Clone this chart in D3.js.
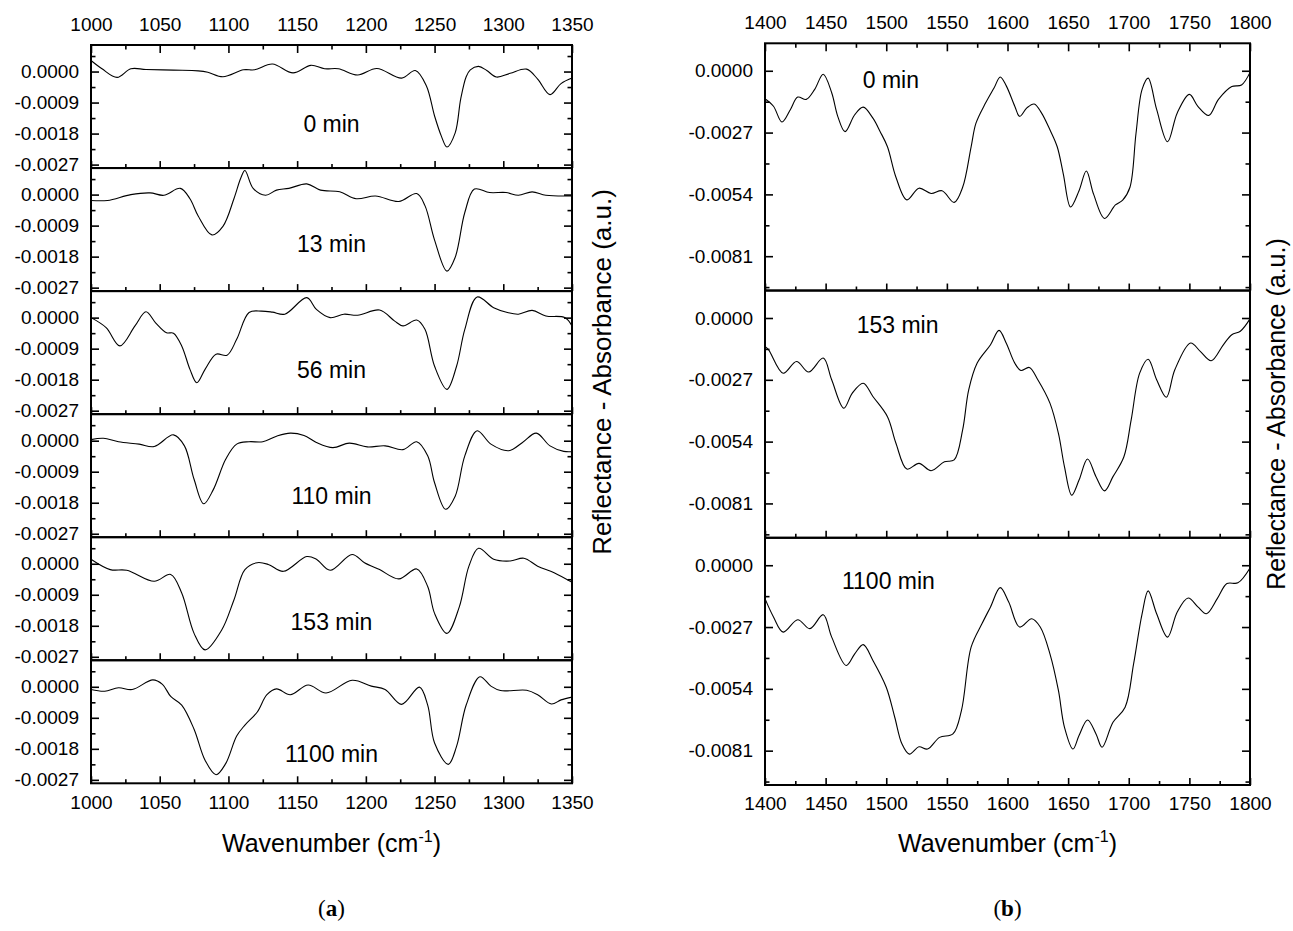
<!DOCTYPE html>
<html>
<head>
<meta charset="utf-8">
<script src="https://cdn.jsdelivr.net/npm/d3@7"></script>
<style>
  body { margin: 0; background: #fff; }
  svg { display: block; font-family: "Liberation Sans", Arial, sans-serif; }
</style>
</head>
<body>
<svg id="chart" width="1293" height="931"></svg>
<script>
// ---- Data -----------------------------------------------------------------
// Difference spectra [wavenumber (cm-1), reflectance - absorbance (a.u.)]

// (a) 1000-1350 cm-1 region
const timesA = ["0 min", "13 min", "56 min", "110 min", "153 min", "1100 min"];

const specA0 = [[1000,0.00032],[1008,0.00008],[1019,-0.00017],[1029,0.00008],[1040,0.00006],[1060,0.00004],[1078,0.00002],[1085,-0.00002],[1096,-0.00015],[1111,0.00005],[1119,0.00005],[1132,0.00022],[1147,-0.00004],[1160,0.00018],[1170,0.00008],[1180,0.00008],[1194,-0.0001],[1208,0.00009],[1226,-0.00019],[1236,0.00003],[1244,-0.00041],[1250,-0.00129],[1255,-0.00188],[1259,-0.00219],[1265,-0.00178],[1269,-0.0008],[1273,-0.00015],[1276,0.00005],[1282,0.00015],[1288,0.00003],[1295,-0.00016],[1305,-0.00005],[1317,0.00007],[1325,-0.00022],[1334,-0.00067],[1342,-0.00035],[1350,-0.00019]];

const specA1 = [[1000,-0.00017],[1012,-0.00017],[1029,0],[1043,0.00005],[1053,-0.00002],[1065,0.00018],[1072,-0.00012],[1078,-0.00062],[1088,-0.00117],[1096,-0.00092],[1104,-0.00012],[1109,0.00048],[1112,0.0007],[1118,0.00018],[1127,-0.00002],[1135,0.00013],[1144,0.00018],[1157,0.00031],[1167,0.00013],[1181,0.00008],[1193,-0.00012],[1207,-0.00004],[1224,-0.0002],[1237,0.00003],[1243,-0.00032],[1250,-0.00132],[1259,-0.00222],[1265,-0.00182],[1272,-0.00052],[1279,0.00016],[1290,0.00006],[1302,0.00006],[1311,-0.00002],[1321,0.00008],[1331,-0.00002],[1350,-0.00004]];

const specA2 = [[1000,0],[1011,-0.00029],[1021,-0.00082],[1032,-0.00024],[1040,0.00017],[1047,-0.00015],[1055,-0.00044],[1060,-0.00045],[1066,-0.00082],[1072,-0.0015],[1077,-0.00189],[1083,-0.0015],[1091,-0.00106],[1099,-0.00109],[1106,-0.00063],[1115,0.00015],[1124,0.00019],[1132,0.00016],[1141,0.0001],[1157,0.00058],[1164,0.00024],[1174,0],[1184,0.0001],[1194,0.00007],[1210,0.00022],[1221,-0.0001],[1227,-0.00024],[1237,-0.00007],[1243,-0.00034],[1250,-0.00141],[1259,-0.00208],[1266,-0.00141],[1272,-0.00034],[1281,0.0006],[1293,0.00029],[1303,0.00015],[1311,0.0001],[1321,0.00021],[1331,0.00005],[1345,0],[1350,-0.00024]];

const specA3 = [[1000,0.00003],[1009,0.00007],[1020,-0.00003],[1035,-0.0001],[1046,-0.00017],[1060,0.00017],[1068,-0.00015],[1075,-0.00112],[1082,-0.00183],[1089,-0.00142],[1098,-0.00054],[1106,-0.0001],[1115,-0.00003],[1125,-0.00003],[1135,0.00013],[1145,0.00022],[1155,0.00015],[1164,-0.00005],[1176,-0.0002],[1188,-0.00007],[1201,-0.00018],[1214,-0.00015],[1227,-0.00026],[1237,-0.00003],[1245,-0.00044],[1250,-0.00122],[1258,-0.00199],[1265,-0.00161],[1272,-0.00044],[1281,0.00029],[1291,-0.0001],[1304,-0.00029],[1314,-0.00005],[1324,0.00022],[1334,-0.00015],[1344,-0.00031],[1350,-0.00032]];

const specA4 = [[1000,0.00013],[1014,-0.00017],[1026,-0.00019],[1046,-0.00051],[1058,-0.00031],[1066,-0.00085],[1075,-0.00202],[1083,-0.0025],[1095,-0.00193],[1104,-0.00105],[1112,-0.00017],[1121,0.00003],[1129,-0.00002],[1140,-0.00022],[1157,0.00021],[1164,0.00013],[1174,-0.00019],[1190,0.00027],[1199,0.00003],[1210,-0.00017],[1224,-0.00044],[1237,-0.00015],[1245,-0.00066],[1250,-0.00144],[1259,-0.00202],[1268,-0.00125],[1275,-0.00007],[1282,0.00045],[1293,0.00013],[1305,0.00008],[1315,0.00016],[1325,-0.00007],[1337,-0.00026],[1350,-0.00054]];

const specA5 = [[1000,-0.00008],[1010,-0.00013],[1020,-0.00003],[1030,-0.00008],[1045,0.0002],[1052,0.00007],[1058,-0.00028],[1066,-0.00053],[1075,-0.00123],[1083,-0.00213],[1091,-0.00255],[1098,-0.00223],[1106,-0.00143],[1112,-0.00111],[1121,-0.00073],[1128,-0.00023],[1135,-0.00006],[1145,-0.00023],[1158,0.00005],[1171,-0.00018],[1190,0.00019],[1204,0.00002],[1214,-0.00008],[1226,-0.00051],[1239,-0.00001],[1245,-0.00053],[1250,-0.00163],[1260,-0.00225],[1266,-0.00173],[1273,-0.00053],[1283,0.00029],[1291,0.00002],[1298,-0.00011],[1317,-0.0001],[1325,-0.00023],[1335,-0.0005],[1342,-0.00038],[1350,-0.0003]];

// (b) 1400-1800 cm-1 region
const timesB = ["0 min", "153 min", "1100 min"];

const specB0 = [[1400,-0.00122],[1407,-0.00155],[1414,-0.00224],[1421,-0.00169],[1427,-0.00115],[1434,-0.00125],[1441,-0.00081],[1448,-0.00015],[1455,-0.00096],[1460,-0.00199],[1466,-0.00266],[1474,-0.00192],[1481,-0.00159],[1489,-0.00207],[1495,-0.00266],[1501,-0.00332],[1508,-0.00465],[1517,-0.00564],[1527,-0.00513],[1537,-0.00536],[1546,-0.00524],[1556,-0.00575],[1563,-0.00509],[1570,-0.00332],[1574,-0.00229],[1582,-0.0014],[1589,-0.00074],[1594,-0.00027],[1599,-0.00066],[1606,-0.00155],[1610,-0.00199],[1616,-0.00162],[1622,-0.00145],[1628,-0.00184],[1635,-0.00258],[1641,-0.00332],[1646,-0.0045],[1652,-0.00595],[1659,-0.00524],[1665,-0.00438],[1671,-0.00539],[1680,-0.00645],[1689,-0.00586],[1695,-0.00565],[1701,-0.00509],[1706,-0.00273],[1711,-0.00081],[1716,-0.00032],[1723,-0.00169],[1732,-0.0031],[1740,-0.00184],[1750,-0.00103],[1757,-0.00155],[1766,-0.00195],[1774,-0.00125],[1785,-0.00069],[1793,-0.00062],[1800,-0.00007]];

const specB1 = [[1400,-0.00124],[1403,-0.00139],[1415,-0.00241],[1426,-0.0019],[1436,-0.00236],[1448,-0.00175],[1455,-0.0027],[1465,-0.00394],[1472,-0.00328],[1481,-0.00285],[1489,-0.00343],[1501,-0.00431],[1508,-0.00547],[1517,-0.0066],[1527,-0.00635],[1537,-0.00667],[1548,-0.00628],[1556,-0.0062],[1563,-0.00489],[1568,-0.00314],[1575,-0.00197],[1586,-0.00117],[1593,-0.00054],[1599,-0.0011],[1606,-0.00197],[1611,-0.00229],[1618,-0.00216],[1625,-0.0027],[1635,-0.00372],[1642,-0.00504],[1647,-0.0065],[1653,-0.00774],[1659,-0.00708],[1666,-0.00616],[1673,-0.00693],[1680,-0.00755],[1687,-0.00693],[1696,-0.00606],[1702,-0.00445],[1709,-0.00241],[1716,-0.0018],[1723,-0.0027],[1731,-0.00346],[1738,-0.00226],[1751,-0.00109],[1759,-0.00146],[1768,-0.00187],[1778,-0.00117],[1785,-0.00073],[1792,-0.00058],[1800,-0.00004]];

const specB2 = [[1400,-0.00146],[1407,-0.00226],[1415,-0.00292],[1427,-0.00238],[1437,-0.00277],[1448,-0.00216],[1455,-0.00314],[1467,-0.00438],[1474,-0.00387],[1481,-0.00347],[1489,-0.00416],[1500,-0.00533],[1507,-0.00664],[1513,-0.00781],[1519,-0.00825],[1527,-0.00793],[1534,-0.00803],[1544,-0.00752],[1555,-0.00737],[1562,-0.00635],[1570,-0.00358],[1579,-0.00255],[1586,-0.00182],[1594,-0.00098],[1601,-0.00161],[1610,-0.0027],[1620,-0.00234],[1627,-0.0027],[1635,-0.00387],[1642,-0.00547],[1647,-0.00708],[1654,-0.00803],[1659,-0.00744],[1666,-0.00676],[1673,-0.00737],[1678,-0.00795],[1687,-0.00686],[1697,-0.0062],[1704,-0.00431],[1711,-0.00212],[1716,-0.00112],[1723,-0.00212],[1732,-0.00314],[1740,-0.00204],[1749,-0.00143],[1757,-0.00182],[1764,-0.00212],[1773,-0.00146],[1781,-0.0008],[1790,-0.00077],[1800,-0.00012]];

// Axis ticks
const xTicksA = [1000, 1050, 1100, 1150, 1200, 1250, 1300, 1350];
const xTicksB = [1400, 1450, 1500, 1550, 1600, 1650, 1700, 1750, 1800];
const yTicksA = [0, -0.0009, -0.0018, -0.0027];
const yTicksB = [0, -0.0027, -0.0054, -0.0081];

// Position of each time label, in data units [wavenumber, absorbance]
const labelAtA = [[1175,-0.00175],[1175,-0.00166],[1175,-0.00175],[1175,-0.00184],[1175,-0.00192],[1175,-0.00217]];
const labelAtB = [[1480.6,-0.00077],[1475.6,-0.00067],[1463.5,-0.00105]];

// ---- Drawing --------------------------------------------------------------
const svg = d3.select("#chart");
const FONT = '"Liberation Sans", Arial, sans-serif';
const fmt = d => d3.format(".4f")(d).replace("\u2212", "-");

function drawStack(cfg) {
  const x = d3.scaleLinear().domain(cfg.xDomain).range([cfg.left, cfg.right]);
  const n = cfg.spectra.length;
  const h = (cfg.bottom - cfg.top) / n;
  const g = svg.append("g");

  const minorX = d3.range(cfg.xDomain[0], cfg.xDomain[1] + 1e-9, cfg.xMinor)
    .filter(v => !cfg.xTicks.includes(v));

  cfg.spectra.forEach((spec, i) => {
    const y0 = cfg.top + i * h, y1 = y0 + h;
    const y = d3.scaleLinear().domain(cfg.yDomain).range([y1, y0]);
    const pg = g.append("g");

    // major & minor y ticks (left, labelled)
    pg.append("g").attr("transform", `translate(${cfg.left},0)`)
      .call(d3.axisLeft(y).tickValues(cfg.yTicks).tickSizeInner(-8).tickSizeOuter(0)
        .tickPadding(12).tickFormat(fmt));
    const yStep = cfg.yTicks[0] - cfg.yTicks[1];
    const minorY = d3.range(-10, 10).map(k => (k + 0.5) * yStep)
      .filter(v => v > cfg.yDomain[0] && v < cfg.yDomain[1]);
    pg.append("g").attr("transform", `translate(${cfg.left},0)`)
      .call(d3.axisLeft(y).tickValues(minorY).tickSizeInner(-4.5).tickSizeOuter(0).tickFormat(""));
    // right side ticks
    pg.append("g").attr("transform", `translate(${cfg.right},0)`)
      .call(d3.axisRight(y).tickValues(cfg.yTicks).tickSizeInner(-8).tickSizeOuter(0).tickFormat(""));
    pg.append("g").attr("transform", `translate(${cfg.right},0)`)
      .call(d3.axisRight(y).tickValues(minorY).tickSizeInner(-4.5).tickSizeOuter(0).tickFormat(""));

    // x ticks along the bottom edge of every panel
    const isLast = i === n - 1;
    pg.append("g").attr("transform", `translate(0,${y1})`)
      .call(d3.axisBottom(x).tickValues(cfg.xTicks).tickSizeInner(-7).tickSizeOuter(0)
        .tickPadding(12).tickFormat(isLast ? d3.format("d") : ""));
    pg.append("g").attr("transform", `translate(0,${y1})`)
      .call(d3.axisBottom(x).tickValues(minorX).tickSizeInner(-4).tickSizeOuter(0).tickFormat(""));

    if (i === 0) {
      pg.append("g").attr("transform", `translate(0,${y0})`)
        .call(d3.axisTop(x).tickValues(cfg.xTicks).tickSizeInner(-8).tickSizeOuter(0)
          .tickPadding(14).tickFormat(d3.format("d")));
      pg.append("g").attr("transform", `translate(0,${y0})`)
        .call(d3.axisTop(x).tickValues(minorX).tickSizeInner(-4.5).tickSizeOuter(0).tickFormat(""));
    }

    // spectrum
    const line = d3.line().x(d => x(d[0])).y(d => y(d[1])).curve(d3.curveCatmullRom.alpha(0.5));
    pg.append("path").datum(spec)
      .attr("d", line).attr("fill", "none").attr("stroke", "#000").attr("stroke-width", 1.1);

    // time label
    const [lx, ly] = cfg.labelAt[i];
    pg.append("text").attr("x", x(lx)).attr("y", y(ly))
      .attr("text-anchor", cfg.labelAnchor).attr("font-size", 23).attr("font-family", FONT)
      .attr("fill", "#000").text(cfg.times[i]);

    // panel frame
    pg.append("rect").attr("x", cfg.left).attr("y", y0)
      .attr("width", cfg.right - cfg.left).attr("height", h)
      .attr("fill", "none").attr("stroke", "#000").attr("stroke-width", 2);
  });

  g.selectAll(".domain").remove();
  g.selectAll(".tick line").attr("stroke", "#000").attr("stroke-width", 1.6);
  g.selectAll(".tick text").attr("font-size", 19).attr("font-family", FONT).attr("fill", "#000");

  // axis titles
  const xt = g.append("text").attr("x", (cfg.left + cfg.right) / 2).attr("y", cfg.xTitleY)
    .attr("text-anchor", "middle").attr("font-size", 25).attr("font-family", FONT).attr("fill", "#000");
  xt.append("tspan").text("Wavenumber (cm");
  xt.append("tspan").attr("font-size", 16).attr("dy", -10).text("-1");
  xt.append("tspan").attr("dy", 10).text(")");

  g.append("text")
    .attr("transform", `translate(${cfg.yTitleX},${cfg.yTitleY}) rotate(-90)`)
    .attr("text-anchor", "middle").attr("font-size", cfg.yTitleSize).attr("font-family", FONT).attr("fill", "#000")
    .text("Reflectance - Absorbance (a.u.)");

  const cap = g.append("text").attr("x", (cfg.left + cfg.right) / 2).attr("y", cfg.capY)
    .attr("text-anchor", "middle").attr("font-size", 23)
    .attr("font-family", '"Liberation Serif", "DejaVu Serif", serif').attr("fill", "#000");
  cap.append("tspan").text("(");
  cap.append("tspan").attr("font-weight", "bold").text(cfg.caption);
  cap.append("tspan").text(")");
}

drawStack({
  spectra: [specA0, specA1, specA2, specA3, specA4, specA5],
  times: timesA, labelAt: labelAtA, labelAnchor: "middle",
  xDomain: [1000, 1350], xTicks: xTicksA, xMinor: 25,
  yDomain: [-0.0028, 0.00077], yTicks: yTicksA,
  left: 91, right: 572, top: 45, bottom: 783.3,
  xTitleY: 852, yTitleX: 611, yTitleY: 372, yTitleSize: 26, capY: 916, caption: "a"
});

drawStack({
  spectra: [specB0, specB1, specB2],
  times: timesB, labelAt: labelAtB, labelAnchor: "start",
  xDomain: [1400, 1800], xTicks: xTicksB, xMinor: 25,
  yDomain: [-0.0096, 0.0012], yTicks: yTicksB,
  left: 765, right: 1250, top: 43.3, bottom: 785,
  xTitleY: 852, yTitleX: 1285, yTitleY: 414, yTitleSize: 25, capY: 916, caption: "b"
});
</script>
</body>
</html>
